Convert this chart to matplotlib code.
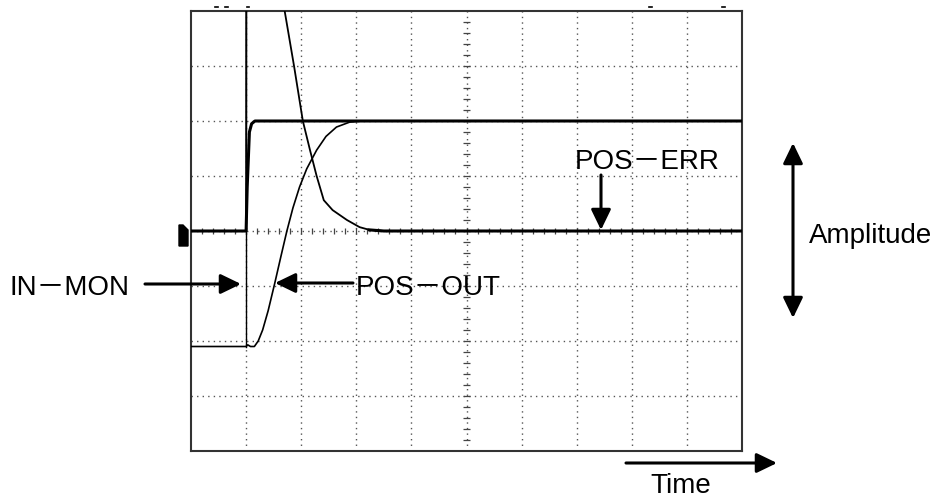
import numpy as np
import matplotlib
matplotlib.use("Agg")
import matplotlib.pyplot as plt
from matplotlib.patches import Polygon
from matplotlib.lines import Line2D

# ---- data (divisions: time 0..10, amplitude -4..4) ----
trigger_t = 1.0

in_mon_t = [0.0, 1.0, 1.02, 1.06, 1.10, 1.16, 10.0]
in_mon_v = [0.0, 0.0, 0.80, 1.80, 1.95, 2.00, 2.00]

pos_out_t = [0.0, 1.0, 1.03, 1.08, 1.15, 1.22, 1.30, 1.40, 1.52, 1.63, 1.74,
             1.85, 1.97, 2.10, 2.28, 2.45, 2.64, 2.88, 3.10, 3.40, 10.0]
pos_out_v = [-2.1, -2.1, -2.07, -2.1, -2.1, -2.0, -1.8, -1.45, -0.95, -0.47, 0.0,
             0.42, 0.80, 1.13, 1.47, 1.72, 1.89, 1.98, 2.0, 2.0, 2.0]

pos_err_t = [0.0, 1.0, 1.005, 1.70, 1.87, 2.03, 2.16, 2.28, 2.41, 2.57, 2.83,
             3.06, 3.24, 3.50, 10.0]
pos_err_v = [0.0, 0.0, 9.0, 4.0, 3.0, 2.0, 1.47, 1.0, 0.56, 0.38, 0.20,
             0.07, 0.02, 0.0, 0.0]

x_divs = 10
y_divs = 8

labels = {"in": "IN－MON", "out": "POS－OUT", "err": "POS－ERR",
          "amp": "Amplitude", "time": "Time"}

# ---- figure ----
W, H = 939, 499
fig = plt.figure(figsize=(W / 100, H / 100), dpi=100)
ax = fig.add_axes([191 / W, 48 / H, 551 / W, 440 / H])
ax.set_xlim(0, x_divs)
ax.set_ylim(-y_divs / 2, y_divs / 2)
ax.set_xticks([])
ax.set_yticks([])
for s in ax.spines.values():
    s.set_color("#333333")
    s.set_linewidth(1.5)

grid_kw = dict(ls=(0, (1, 3)), lw=1.0, color="#555555", zorder=1)
for gx in range(1, x_divs):
    ax.axvline(gx, **grid_kw)
for gy in range(-y_divs // 2 + 1, y_divs // 2):
    ax.axhline(gy, **grid_kw)

# minor ticks on centre lines
tx = np.arange(0.2, x_divs, 0.2)
ax.vlines(tx, -0.06, 0.06, color="#444444", lw=0.9, zorder=1)
ty = np.arange(-y_divs / 2 + 0.2, y_divs / 2, 0.2)
ax.hlines(ty, x_divs / 2 - 0.06, x_divs / 2 + 0.06, color="#444444", lw=0.9, zorder=1)

# ---- traces ----
ax.plot([trigger_t, trigger_t], [pos_out_v[0], y_divs / 2], color="black", lw=1.0, zorder=3)
ax.plot(pos_out_t, pos_out_v, color="black", lw=1.2, zorder=3)
ax.plot(pos_err_t, pos_err_v, color="black", lw=1.3, zorder=3)
pe_t = np.array(pos_err_t); pe_v = np.array(pos_err_v)
m = pe_t >= 3.2
ax.plot(pe_t[m], pe_v[m], color="black", lw=2.2, zorder=3)
ax.plot(in_mon_t, in_mon_v, color="black", lw=2.2, zorder=4)

# ---- annotations (figure pixel layout) ----
def fx(px):
    return px / W

def fy(py):
    return 1 - py / H

def arrow(x0, y0, x1, y1, both=False):
    style = "<|-|>" if both else "-|>"
    ax.annotate("", xy=(fx(x1), fy(y1)), xytext=(fx(x0), fy(y0)),
                xycoords="figure fraction", textcoords="figure fraction",
                annotation_clip=False,
                arrowprops=dict(arrowstyle=f"{style},head_length=0.62,head_width=0.3",
                                mutation_scale=20, lw=2.2, color="black",
                                shrinkA=0, shrinkB=0))

fam = ["Liberation Sans", "Noto Sans CJK JP", "DejaVu Sans"]
fs = 20

def label(px, py, s):
    fig.text(fx(px), fy(py), s, fontsize=fs, family=fam, ha="left", va="baseline")

label(9, 295, labels["in"])
label(356, 295, labels["out"])
label(575, 169, labels["err"])
label(809, 243, labels["amp"])
label(650, 493, labels["time"])

arrow(145, 284, 241, 284)
arrow(353, 283, 275, 283)
arrow(601, 175, 601, 230)
arrow(793, 143, 793, 318, both=True)
arrow(626, 463, 777, 463)

# ground marker
fig.add_artist(Polygon([(fx(179), fy(225)), (fx(183), fy(225)), (fx(188), fy(230)),
                        (fx(188), fy(246)), (fx(179), fy(246))],
                       closed=True, color="black", transform=fig.transFigure))

# small screen artifacts above the frame
for px in (216, 226, 248, 650, 723):
    fig.add_artist(Line2D([fx(px - 1.5), fx(px + 1.5)], [fy(7), fy(7)],
                          color="black", lw=1.2, transform=fig.transFigure))

fig.savefig("out.png", dpi=100)
